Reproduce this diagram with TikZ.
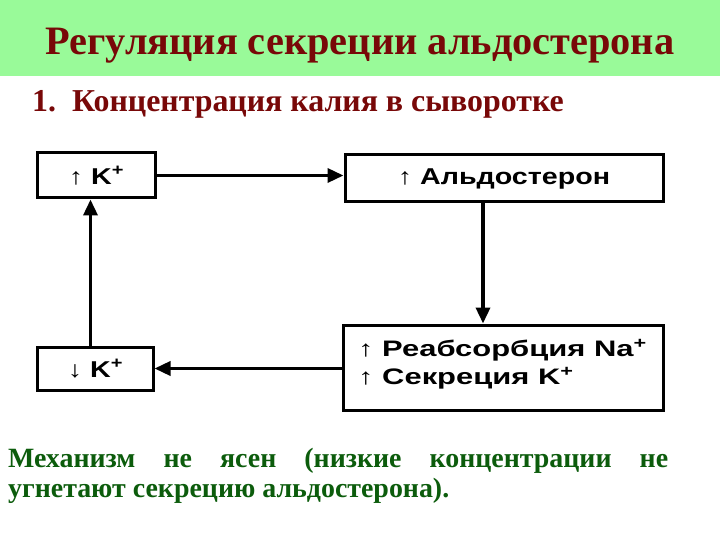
\documentclass[tikz,border=0pt]{standalone}
\usepackage{fontspec}
\setmainfont{Liberation Serif}
\newfontfamily\boxfont[FakeStretch=1.25]{Liberation Sans}
\newfontfamily\boxfontw[FakeStretch=1.38]{Liberation Sans}
\usetikzlibrary{arrows.meta}
\definecolor{bandgreen}{RGB}{153,250,153}
\definecolor{titlered}{RGB}{120,8,8}
\definecolor{notegreen}{RGB}{12,92,12}
\tikzset{
  flowbox/.style={draw=black, line width=3bp, minimum width=#1, inner sep=0pt, font=\boxfont\bfseries\fontsize{23}{27}\selectfont},
  boxline/.style={anchor=base west, inner sep=0pt, font=\boxfontw\bfseries\fontsize{22.5}{24}\selectfont},
  note/.style={anchor=base west, inner sep=0pt, text=notegreen, font=\bfseries\fontsize{28}{30}\selectfont},
  arr/.style={line width=3.5bp, -{Triangle[length=16bp,width=14bp]}},
}
\begin{document}
\begin{tikzpicture}[x=1bp,y=-1bp]
\useasboundingbox (0,0) rectangle (720,540);
\fill[bandgreen] (0,0) rectangle (720,76);
\node[anchor=base, text=titlered, font=\bfseries\fontsize{40.5}{44}\selectfont] (title) at (360,55) {Регуляция секреции альдостерона};
\node[anchor=base west, text=titlered, font=\bfseries\fontsize{32}{36}\selectfont, inner sep=0pt] (sub) at (32,112) {1.\ \ Концентрация калия в сыворотке};
\node[flowbox=117bp, minimum height=45bp] (b1) at (96.5,175.5) {↑ K\textsuperscript{+}};
\node[flowbox=318bp, minimum height=47bp] (b2) at (504,178.5) {↑ Альдостерон};
\node[flowbox=320bp, minimum height=85bp] (b3) at (503,367.5) {};
\node[boxline, text depth=1bp] (b3a) at (358,356) {↑ Реабсорбция Na\textsuperscript{+}};
\node[boxline, text height=16bp] (b3b) at (358,384) {↑ Секреция K\smash{\textsuperscript{+}}};
\node[flowbox=115bp, minimum height=43bp] (b4) at (95.5,368.5) {↓ K\textsuperscript{+}};
\draw[arr] (b1.east) -- (b1.east -| b2.west);
\draw[arr] ([xshift=-21bp]b2.south) -- ([xshift=-21bp]b2.south |- b3.north);
\draw[arr] (b4.east -| b3.west) -- (b4.east);
\draw[arr] ([xshift=-5bp]b4.north) -- ([xshift=-5bp]b4.north |- b1.south);
\node[note] (n1) at (8,467) {\makebox[660bp][s]{Механизм не ясен (низкие концентрации не}};
\node[note] (n2) at (8,497) {угнетают секрецию альдостерона).};
\end{tikzpicture}
\end{document}
